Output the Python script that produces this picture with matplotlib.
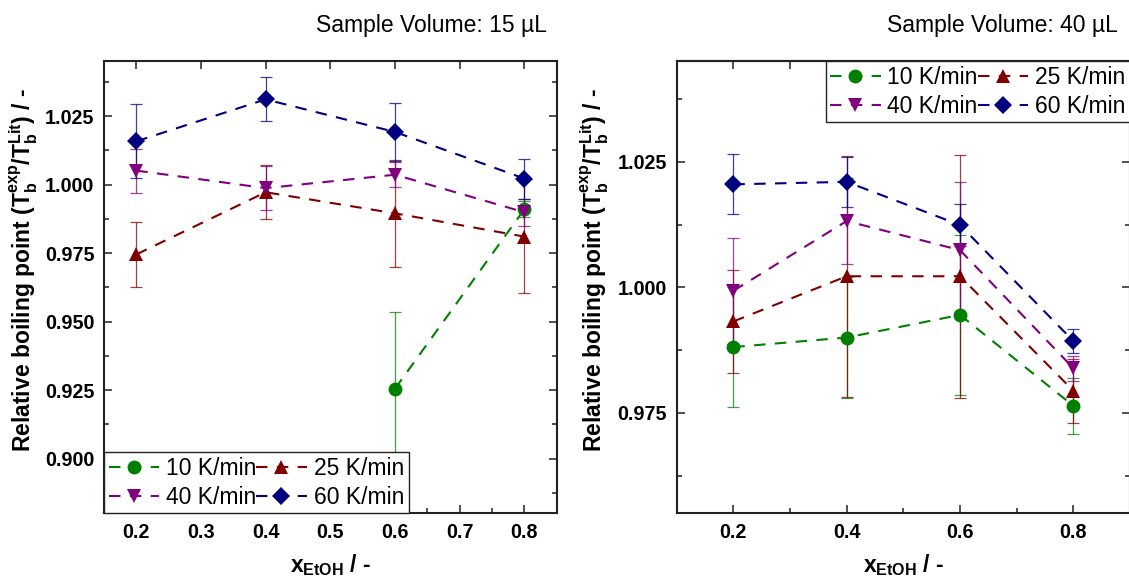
import numpy as np
import matplotlib
matplotlib.use("Agg")
import matplotlib.pyplot as plt
from matplotlib.ticker import MultipleLocator, FixedLocator

plt.rcParams['font.family'] = ['Liberation Sans', 'DejaVu Sans']
plt.rcParams['mathtext.fontset'] = 'custom'
plt.rcParams['mathtext.rm'] = 'Liberation Sans'
plt.rcParams['mathtext.it'] = 'Liberation Sans:italic'
plt.rcParams['mathtext.bf'] = 'Liberation Sans:bold'

# ---------------- data ----------------
x_etoh = [0.2, 0.4, 0.6, 0.8]
rate_labels = ["10 K/min", "25 K/min", "40 K/min", "60 K/min"]

# Sample volume 15 uL
y10_15 = [np.nan, np.nan, 0.9255, 0.9910]
e10_15 = [np.nan, np.nan, 0.0280, 0.0030]
y25_15 = [0.9745, 0.9972, 0.9895, 0.9810]
e25_15 = [0.0120, 0.0098, 0.0195, 0.0205]
y40_15 = [1.0051, 0.9987, 1.0036, 0.9899]
e40_15 = [0.0080, 0.0080, 0.0045, 0.0050]
y60_15 = [1.0158, 1.0311, 1.0192, 1.0022]
e60_15 = [0.0135, 0.0080, 0.0105, 0.0073]

# Sample volume 40 uL
y10_40 = [0.9881, 0.9900, 0.9945, 0.9764]
e10_40 = [0.0120, 0.0120, 0.0160, 0.0056]
y25_40 = [0.9932, 1.0022, 1.0022, 0.9794]
e25_40 = [0.0103, 0.0240, 0.0242, 0.0064]
y40_40 = [0.9993, 1.0132, 1.0074, 0.9839]
e40_40 = [0.0105, 0.0085, 0.0136, 0.0025]
y60_40 = [1.0205, 1.0210, 1.0124, 0.9893]
e60_40 = [0.0060, 0.0050, 0.0042, 0.0024]

colors = ["#008000", "#800000", "#800080", "#000080"]
markers = ["o", "^", "v", "D"]
msizes = [10, 10.5, 10.5, 9.3]

W, H = 1129, 581
fig = plt.figure(figsize=(W / 100, H / 100), dpi=100)

def px_axes(l, r, t, b):
    return [l / W, (H - b) / H, (r - l) / W, (b - t) / H]

ax1 = fig.add_axes(px_axes(104, 556.7, 61.3, 513.3))
ax2 = fig.add_axes(px_axes(676.7, 1130, 61.3, 513.3))

def draw(ax, ys, es):
    handles = []
    for y, e, c, m, ms, lab in zip(ys, es, colors, markers, msizes, rate_labels):
        ax.errorbar(x_etoh, y, yerr=e, color=c, ecolor=c, elinewidth=0.9,
                    capsize=4.5, capthick=0.9, fmt='none', alpha=0.75, zorder=2)
        ln, = ax.plot(x_etoh, y, color=c, ls=(0, (5.5, 4.5)), lw=1.5,
                      marker=m, markersize=ms, markeredgewidth=0,
                      label=lab, zorder=3)
        handles.append(ln)
    # legend fills column-wise: reorder so rows read 10,25 / 40,60
    return [handles[0], handles[2], handles[1], handles[3]]

h1 = draw(ax1, [y10_15, y25_15, y40_15, y60_15], [e10_15, e25_15, e40_15, e60_15])
h2 = draw(ax2, [y10_40, y25_40, y40_40, y60_40], [e10_40, e25_40, e40_40, e60_40])

ax1.set_xlim(0.15, 0.85)
ax1.set_ylim(0.88, 1.045)
ax2.set_xlim(0.1, 0.9)
ax2.set_ylim(0.955, 1.045)

ax1.xaxis.set_major_locator(FixedLocator([0.2, 0.3, 0.4, 0.5, 0.6, 0.7, 0.8]))
ax1.xaxis.set_minor_locator(FixedLocator([0.15, 0.25, 0.35, 0.45, 0.55, 0.65, 0.75, 0.85]))
ax2.xaxis.set_major_locator(FixedLocator([0.2, 0.4, 0.6, 0.8]))
ax2.xaxis.set_minor_locator(FixedLocator([0.3, 0.5, 0.7]))
for ax in (ax1, ax2):
    ax.yaxis.set_major_locator(MultipleLocator(0.025))
    ax.yaxis.set_minor_locator(MultipleLocator(0.0125))
    ax.yaxis.set_major_formatter(matplotlib.ticker.FormatStrFormatter('%.3f'))
    ax.xaxis.set_major_formatter(matplotlib.ticker.FormatStrFormatter('%.1f'))
    for s in ax.spines.values():
        s.set_linewidth(1.5)
        s.set_color('#222222')
    ax.tick_params(which='both', direction='in', left=True, right=True,
                   bottom=True, top=False, width=1.1, color='#222222')
    ax.tick_params(which='major', length=6, labelsize=14.2, pad=7)
    ax.tick_params(which='minor', length=3.5)
    for lbl in ax.get_xticklabels() + ax.get_yticklabels():
        lbl.set_fontweight('bold')

ax1.tick_params(which='major', top=True)

sec = ax2.secondary_xaxis('top')
sec.set_xticks([0.2, 0.3, 0.4, 0.5, 0.6, 0.7, 0.8])
sec.tick_params(direction='in', length=6, width=1.1, labeltop=False, color='#222222')
sec.spines['top'].set_linewidth(1.5)
sec.spines['top'].set_color('#222222')

ylab = r"Relative boiling point ($\mathbf{T_b^{exp}/T_b^{Lit}}$) / -"
xlab = r"$\mathbf{x_{EtOH}}$ / -"
for ax, xc in ((ax1, -0.177), (ax2, -0.180)):
    ax.set_ylabel(ylab, fontsize=16.5, fontweight='bold', va='center')
    ax.yaxis.set_label_coords(xc, 0.539)
    ax.set_xlabel(xlab, fontsize=16.5, fontweight='bold', va='bottom')
    ax.xaxis.set_label_coords(0.5, -0.143)

leg_kw = dict(ncol=2, fontsize=16.5, handlelength=2.2, handletextpad=0.3,
              columnspacing=0.0, labelspacing=0.26, borderpad=0.2,
              borderaxespad=0.0, fancybox=False, framealpha=1.0,
              edgecolor='#222222')
l1 = ax1.legend(handles=h1, loc='lower left', **leg_kw)
l2 = ax2.legend(handles=h2, loc='upper right', **leg_kw)
for lg in (l1, l2):
    lg.get_frame().set_linewidth(1.0)

fig.text(546.7 / W, (H - 32) / H, "Sample Volume: 15 µL", ha='right',
         va='baseline', fontsize=16.5)
fig.text(1118 / W, (H - 32) / H, "Sample Volume: 40 µL", ha='right',
         va='baseline', fontsize=16.5)

fig.savefig("out.png", dpi=100)
